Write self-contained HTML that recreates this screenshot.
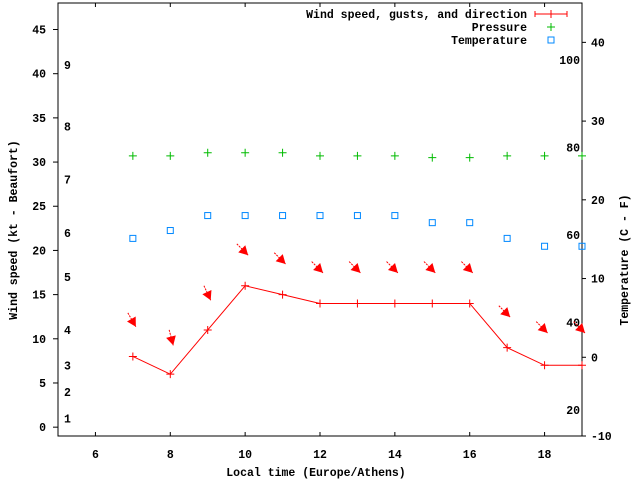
<!DOCTYPE html>
<html><head><meta charset="utf-8"><style>
html,body{margin:0;padding:0;background:#fff;}
svg text{font-family:"Liberation Mono",monospace;font-size:11.5px;font-weight:bold;fill:#000;}
</style></head><body>
<svg id="chart" width="640" height="480" xmlns="http://www.w3.org/2000/svg">
<rect x="58" y="3" width="524" height="433" fill="none" stroke="#000" stroke-width="1"/>
<g id="axes"></g>
<g id="marks"></g>
<text transform="translate(17,230) rotate(-90)" text-anchor="middle">Wind speed (kt - Beaufort)</text>
<text transform="translate(628,260) rotate(-90)" text-anchor="middle">Temperature (C - F)</text>
<text x="316" y="476" text-anchor="middle">Local time (Europe/Athens)</text>
<g>
<text x="527" y="18" text-anchor="end">Wind speed, gusts, and direction</text>
<line x1="535" y1="14" x2="567" y2="14" stroke="#f00"/><line x1="535" y1="11" x2="535" y2="17" stroke="#f00"/><line x1="567" y1="11" x2="567" y2="17" stroke="#f00"/><line x1="551" y1="10" x2="551" y2="18" stroke="#f00"/>
<text x="527" y="31" text-anchor="end">Pressure</text>
<path d="M547 27h8M551 23v8" stroke="#0b0" fill="none"/>
<text x="527" y="44" text-anchor="end">Temperature</text>
<rect x="548" y="37" width="6" height="6" fill="none" stroke="#08f"/>
</g>
</svg>
<script>
const hours=[7,8,9,10,11,12,13,14,15,16,17,18,19];
const windSpeed=[8,6,11,16,15,14,14,14,14,14,9,7,7];
const gusts=[11.7,9.6,14.7,19.8,18.8,17.8,17.8,17.8,17.8,17.8,12.8,11,11];
const windDir=[330,345,335,315,315,315,315,315,315,315,315,315,315];
const pressure=[30.7,30.7,31.05,31.05,31.05,30.7,30.7,30.7,30.5,30.5,30.7,30.7,30.7];
const tempC=[15.1,16.1,18,18,18,18,18,18,17.1,17.1,15.1,14.1,14.1];
const xTicks=[6,8,10,12,14,16,18];
const yTicks=[0,5,10,15,20,25,30,35,40,45];
const y2Ticks=[-10,0,10,20,30,40];
const fTicks=[20,40,60,80,100];
const beaufort=[1,2,3,4,5,6,7,8,9];
const beaufortKt=[1,4,7,11,17,22,28,34,41];

const X=v=>58+(v-5)/(19-5)*524;
const Y=v=>436-(v+1)/(48+1)*433;
const Y2=v=>436-(v+10)/55*433;
const NS="http://www.w3.org/2000/svg";
const axes=document.getElementById('axes'),marks=document.getElementById('marks');
function mk(tag,attrs,parent){const e=document.createElementNS(NS,tag);for(const k in attrs)e.setAttribute(k,attrs[k]);parent.appendChild(e);return e;}
function txt(s,x,y,anchor,parent){const t=mk('text',{x:x,y:y,'text-anchor':anchor},parent);t.textContent=s;return t;}

xTicks.forEach(v=>{const x=X(v);
 const l=mk('line',{x1:x,y1:436,x2:x,y2:432,stroke:'#000'},axes);
 
 mk('line',{x1:x,y1:3,x2:x,y2:7,stroke:'#000'},axes);
 const t=txt(String(v),x,458,'middle',axes);
 });
yTicks.forEach(v=>{const y=Y(v);
 mk('line',{x1:53,y1:y,x2:58,y2:y,stroke:'#000'},axes);
 const t=txt(String(v),46,y+4,'end',axes);
 });
y2Ticks.forEach(v=>{const y=Y2(v);
 mk('line',{x1:582,y1:y,x2:586,y2:y,stroke:'#000'},axes);
 const t=txt(String(v),591,y+4,'start',axes);
 });
fTicks.forEach(v=>{const y=Y2((v-32)*5/9);
 const t=txt(String(v),580,y+4,'end',axes);
 });
beaufort.forEach((b,i)=>{const y=Y(beaufortKt[i]);
 const t=txt(String(b),64,y+4,'start',axes);
 });

// wind line
let d='';hours.forEach((h,i)=>{d+=(i?'L':'M')+X(h)+' '+Y(windSpeed[i]);});
d+='L582 '+Y(windSpeed[windSpeed.length-1]);
const wl=mk('path',{d:d,stroke:'#f00',fill:'none'},marks);

hours.forEach((h,i)=>{const x=X(h),y=Y(windSpeed[i]);
 const p=mk('path',{d:`M${x-4} ${y}h8M${x} ${y-4}v8`,stroke:'#f00'},marks);
 });
// arrows
hours.forEach((h,i)=>{const hx=X(h)+3,hy=Y(gusts[i])+3;
 const a=windDir[i]*Math.PI/180;const ux=-Math.sin(a),uy=Math.cos(a);// direction of travel (screen)
 const L=16,tx=hx-ux*L,ty=hy-uy*L;
 const g=mk('g',{},marks);
 
 mk('line',{x1:tx,y1:ty,x2:hx,y2:hy,stroke:'#f00','stroke-dasharray':'2,1'},g);
 const bx=hx-ux*9,by=hy-uy*9,px=-uy*5,py=ux*5;
 mk('polygon',{points:`${hx},${hy} ${bx+px},${by+py} ${bx-px},${by-py}`,fill:'#f00'},g);});
// pressure
hours.forEach((h,i)=>{const x=X(h),y=Y(pressure[i]);
 const p=mk('path',{d:`M${x-4} ${y}h8M${x} ${y-4}v8`,stroke:'#0b0'},marks);
 });
// temperature
hours.forEach((h,i)=>{const x=X(h),y=Y2(tempC[i]);
 const r=mk('rect',{x:x-3,y:y-3,width:6,height:6,fill:'none',stroke:'#08f'},marks);
 });
</script>
</body></html>
